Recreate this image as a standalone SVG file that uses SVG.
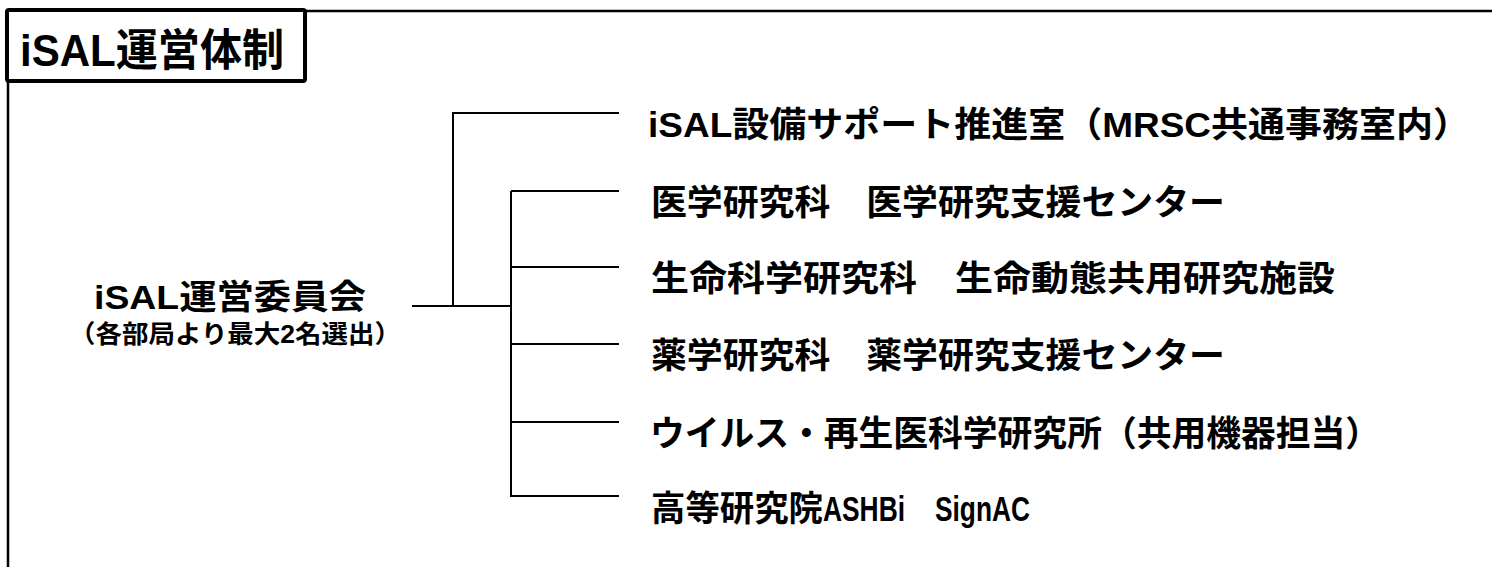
<svg xmlns="http://www.w3.org/2000/svg" width="1492" height="567" viewBox="0 0 1492 567">
<style>
.t{font-family:"Liberation Sans","Noto Sans CJK JP",sans-serif;font-weight:bold;fill:#000}
.row{font-size:35px}
.ln{fill:none;stroke:#000;stroke-width:2}
</style>
<rect width="1492" height="567" fill="#fff"/>
<g id="frame">
<path d="M8,11 H1492 M8,11 V567" fill="none" stroke="#000" stroke-width="2.5"/>
</g>
<g id="title">
<rect x="7" y="10" width="298" height="71" rx="2" fill="#fff" stroke="#000" stroke-width="4"/>
<text class="t" x="20" y="66" font-size="44" textLength="264" lengthAdjust="spacingAndGlyphs">iSAL運営体制</text>
</g>
<g id="connectors" class="ln">
<path class="ln" d="M412,306 H511"/>
<path class="ln" d="M453,306 V113 H619"/>
<path class="ln" d="M511,191 V496 H619"/>
<path class="ln" d="M511,191 H619 M511,267 H619 M511,344 H619 M511,422 H619"/>
</g>
<g id="committee">
<text class="t" x="230" y="309" font-size="34" text-anchor="middle" textLength="272" lengthAdjust="spacingAndGlyphs">iSAL運営委員会</text>
<text class="t" x="235" y="343" font-size="25" text-anchor="middle" textLength="332" lengthAdjust="spacingAndGlyphs">（各部局より最大2名選出）</text>
</g>
<g id="n1"><text class="t row" x="648" y="137" textLength="822" lengthAdjust="spacingAndGlyphs">iSAL設備サポート推進室（MRSC共通事務室内）</text></g>
<g id="n2"><text class="t row" x="651" y="215" textLength="574" lengthAdjust="spacingAndGlyphs">医学研究科　医学研究支援センター</text></g>
<g id="n3"><text class="t row" x="651" y="291" textLength="684" lengthAdjust="spacingAndGlyphs">生命科学研究科　生命動態共用研究施設</text></g>
<g id="n4"><text class="t row" x="651" y="368" textLength="574" lengthAdjust="spacingAndGlyphs">薬学研究科　薬学研究支援センター</text></g>
<g id="n5"><text class="t row" x="650" y="446" textLength="730" lengthAdjust="spacingAndGlyphs">ウイルス・再生医科学研究所（共用機器担当）</text></g>
<g id="n6"><text class="t row" x="651" y="521"><tspan textLength="172" lengthAdjust="spacingAndGlyphs">高等研究院</tspan><tspan x="823" textLength="82" lengthAdjust="spacingAndGlyphs">ASHBi</tspan><tspan x="935" textLength="95" lengthAdjust="spacingAndGlyphs">SignAC</tspan></text></g>
</svg>
